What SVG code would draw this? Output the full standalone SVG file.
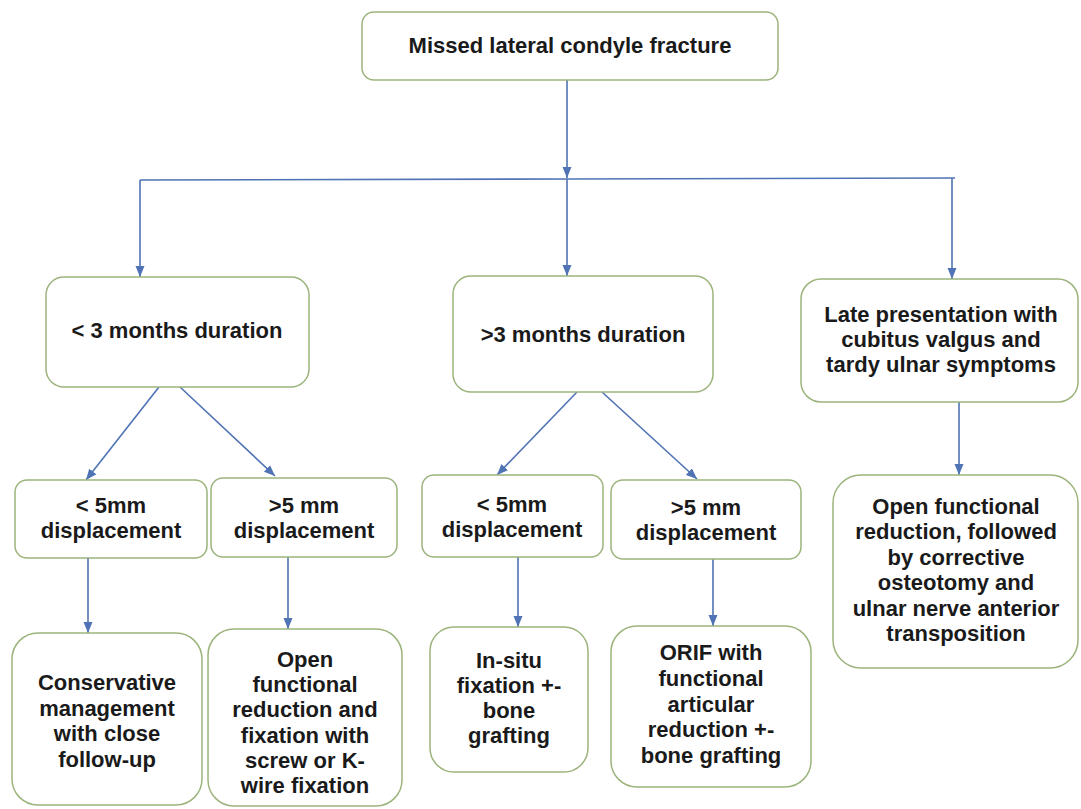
<svg xmlns="http://www.w3.org/2000/svg" width="1081" height="809" viewBox="0 0 1081 809">
<defs>
<style>
.box{fill:#ffffff;stroke:#9cb47c;stroke-width:1.5}
.t{font-family:"Liberation Sans",Arial,sans-serif;font-weight:bold;font-size:22px;fill:#1a1a1a;text-anchor:middle}
.c{stroke:#4f73b4;stroke-width:1.6;fill:none}
.a{marker-end:url(#arr)}
</style>
<marker id="arr" markerUnits="userSpaceOnUse" markerWidth="12" markerHeight="12" viewBox="0 0 12 12" refX="11" refY="6" orient="auto">
<path d="M0,1.5 L11,6 L0,10.5 Z" fill="#4f73b4"/>
</marker>
</defs>
<rect width="1081" height="809" fill="#ffffff"/>
<g id="connectors">
<line class="c a" x1="567" y1="80" x2="567" y2="178"/>
<polyline class="c" points="140,180 567,179 955,178"/>
<line class="c a" x1="140" y1="180" x2="140" y2="277"/>
<line class="c a" x1="567" y1="179" x2="567" y2="276"/>
<line class="c a" x1="952" y1="178" x2="952" y2="279"/>
<line class="c a" x1="159" y1="387" x2="86" y2="480"/>
<line class="c a" x1="180" y1="387" x2="275" y2="476"/>
<line class="c a" x1="577" y1="392" x2="497" y2="475"/>
<line class="c a" x1="602" y1="392" x2="697" y2="479"/>
<line class="c a" x1="959" y1="402" x2="959" y2="475"/>
<line class="c a" x1="88" y1="558" x2="88" y2="633"/>
<line class="c a" x1="288" y1="557" x2="288" y2="629"/>
<line class="c a" x1="518" y1="557" x2="518" y2="627"/>
<line class="c a" x1="713" y1="559" x2="713" y2="626"/>
</g>
<g id="n-top">
<rect class="box" x="362" y="12" width="416" height="68" rx="12"/>
<text class="t" x="570" y="53">Missed lateral condyle fracture</text>
</g>
<g id="n-lt3">
<rect class="box" x="46" y="277" width="263" height="110" rx="18"/>
<text class="t" x="177" y="338">&lt; 3 months duration</text>
</g>
<g id="n-gt3">
<rect class="box" x="453" y="276" width="260" height="116" rx="18"/>
<text class="t" x="583" y="342">&gt;3 months duration</text>
</g>
<g id="n-late">
<rect class="box" x="801" y="279" width="277" height="123" rx="20"/>
<text class="t" x="941" y="322">Late presentation with</text>
<text class="t" x="941" y="347">cubitus valgus and</text>
<text class="t" x="941" y="372">tardy ulnar symptoms</text>
</g>
<g id="n-a">
<rect class="box" x="15" y="480" width="192" height="78" rx="12"/>
<text class="t" x="111" y="513">&lt; 5mm</text>
<text class="t" x="111" y="538">displacement</text>
</g>
<g id="n-b">
<rect class="box" x="211" y="478" width="186" height="79" rx="12"/>
<text class="t" x="304" y="513">&gt;5 mm</text>
<text class="t" x="304" y="538">displacement</text>
</g>
<g id="n-c">
<rect class="box" x="422" y="475" width="181" height="82" rx="12"/>
<text class="t" x="512" y="512">&lt; 5mm</text>
<text class="t" x="512" y="537">displacement</text>
</g>
<g id="n-d">
<rect class="box" x="611" y="480" width="190" height="79" rx="12"/>
<text class="t" x="706" y="515">&gt;5 mm</text>
<text class="t" x="706" y="540">displacement</text>
</g>
<g id="n-e">
<rect class="box" x="12" y="633" width="190" height="172" rx="26"/>
<text class="t" x="107" y="690">Conservative</text>
<text class="t" x="107" y="716">management</text>
<text class="t" x="107" y="741">with close</text>
<text class="t" x="107" y="767">follow-up</text>
</g>
<g id="n-f">
<rect class="box" x="208" y="629" width="194" height="177" rx="26"/>
<text class="t" x="305" y="667">Open</text>
<text class="t" x="305" y="692">functional</text>
<text class="t" x="305" y="717">reduction and</text>
<text class="t" x="305" y="743">fixation with</text>
<text class="t" x="305" y="768">screw or K-</text>
<text class="t" x="305" y="793">wire fixation</text>
</g>
<g id="n-g">
<rect class="box" x="430" y="627" width="158" height="145" rx="24"/>
<text class="t" x="509" y="668">In-situ</text>
<text class="t" x="509" y="693">fixation +-</text>
<text class="t" x="509" y="718">bone</text>
<text class="t" x="509" y="743">grafting</text>
</g>
<g id="n-h">
<rect class="box" x="611" y="626" width="200" height="161" rx="26"/>
<text class="t" x="711" y="660">ORIF with</text>
<text class="t" x="711" y="686">functional</text>
<text class="t" x="711" y="712">articular</text>
<text class="t" x="711" y="737">reduction +-</text>
<text class="t" x="711" y="763">bone grafting</text>
</g>
<g id="n-i">
<rect class="box" x="833" y="475" width="245" height="193" rx="28"/>
<text class="t" x="956" y="514">Open functional</text>
<text class="t" x="956" y="539">reduction, followed</text>
<text class="t" x="956" y="565">by corrective</text>
<text class="t" x="956" y="590">osteotomy and</text>
<text class="t" x="956" y="616">ulnar nerve anterior</text>
<text class="t" x="956" y="641">transposition</text>
</g>
</svg>
